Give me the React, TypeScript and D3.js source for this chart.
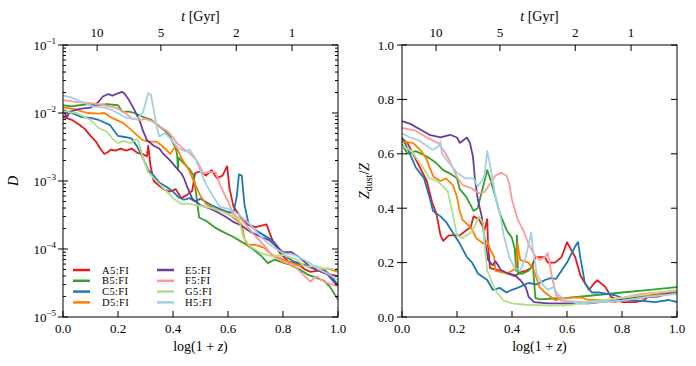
import React, { useEffect, useRef } from 'react';
import * as d3 from 'd3';

type Pt = [number, number];

const seriesNames = ['A5:FI', 'B5:FI', 'C5:FI', 'D5:FI', 'E5:FI', 'F5:FI', 'G5:FI', 'H5:FI'];
const seriesColors = ['#e31a1c', '#33a02c', '#1f78b4', '#ff7f00', '#6a3d9a', '#fb9a99', '#b2df8a', '#a6cee3'];

// left panel: D vs log(1+z)
const A5_D: Pt[] = [[0, 8.7e-3], [0.03, 8.0e-3], [0.06, 6.7e-3], [0.08, 5.8e-3], [0.1, 4.6e-3], [0.12, 3.8e-3], [0.135, 3.0e-3], [0.15, 2.5e-3], [0.16, 2.6e-3], [0.175, 2.9e-3], [0.19, 2.8e-3], [0.21, 3.0e-3], [0.23, 2.8e-3], [0.25, 3.0e-3], [0.27, 2.6e-3], [0.29, 2.5e-3], [0.305, 2.3e-3], [0.31, 3.3e-3], [0.318, 1.7e-3], [0.33, 1.0e-3], [0.35, 8.5e-4], [0.37, 7.4e-4], [0.39, 7.0e-4], [0.41, 7.6e-4], [0.43, 5.6e-4], [0.45, 6.2e-4], [0.47, 7.2e-4], [0.48, 1.3e-3], [0.5, 1.4e-3], [0.52, 1.2e-3], [0.54, 1.45e-3], [0.56, 1.1e-3], [0.58, 1.2e-3], [0.597, 1.65e-3], [0.605, 8.0e-4], [0.62, 4.2e-4], [0.64, 3.2e-4], [0.67, 2.3e-4], [0.7, 2.1e-4], [0.74, 2.3e-4], [0.76, 1.4e-4], [0.79, 8.6e-5], [0.82, 6.5e-5], [0.85, 6.2e-5], [0.88, 5.0e-5], [0.9, 4.6e-5], [0.93, 4.8e-5], [0.96, 4.3e-5], [1.0, 4.0e-5]];
const B5_D: Pt[] = [[0, 1.3e-2], [0.03, 1.25e-2], [0.06, 1.3e-2], [0.09, 1.35e-2], [0.12, 1.3e-2], [0.16, 1.35e-2], [0.2, 1.3e-2], [0.215, 1.05e-2], [0.24, 1.05e-2], [0.26, 1.0e-2], [0.29, 8.8e-3], [0.32, 8.0e-3], [0.35, 6.4e-3], [0.37, 5.5e-3], [0.39, 4.5e-3], [0.41, 3.0e-3], [0.415, 2.4e-3], [0.418, 1.45e-3], [0.42, 2.2e-3], [0.44, 1.8e-3], [0.46, 1.5e-3], [0.475, 1.2e-3], [0.487, 5.3e-4], [0.495, 2.9e-4], [0.52, 2.6e-4], [0.55, 2.1e-4], [0.58, 1.8e-4], [0.62, 1.5e-4], [0.66, 1.2e-4], [0.69, 1.0e-4], [0.72, 8.0e-5], [0.745, 6.2e-5], [0.77, 7.0e-5], [0.8, 6.3e-5], [0.83, 5.8e-5], [0.86, 5.0e-5], [0.89, 4.2e-5], [0.92, 3.8e-5], [0.95, 3.4e-5], [0.97, 2.8e-5], [1.0, 1.8e-5]];
const C5_D: Pt[] = [[0, 1.1e-2], [0.03, 1.0e-2], [0.07, 8.7e-3], [0.1, 8.5e-3], [0.13, 7.9e-3], [0.17, 6.7e-3], [0.2, 4.6e-3], [0.23, 4.4e-3], [0.25, 4.2e-3], [0.27, 3.2e-3], [0.29, 2.2e-3], [0.31, 1.45e-3], [0.33, 1.2e-3], [0.35, 9.5e-4], [0.38, 8.0e-4], [0.4, 7.0e-4], [0.42, 5.8e-4], [0.44, 5.3e-4], [0.46, 5.6e-4], [0.48, 5.0e-4], [0.5, 5.5e-4], [0.52, 4.9e-4], [0.54, 4.4e-4], [0.57, 3.9e-4], [0.6, 3.5e-4], [0.62, 3.4e-4], [0.632, 6.0e-4], [0.64, 1.25e-3], [0.65, 1.2e-3], [0.66, 4.5e-4], [0.675, 2.3e-4], [0.7, 1.9e-4], [0.73, 1.6e-4], [0.76, 1.35e-4], [0.78, 1.1e-4], [0.8, 8.2e-5], [0.84, 6.5e-5], [0.88, 5.8e-5], [0.92, 5.0e-5], [0.95, 4.9e-5], [0.97, 4.2e-5], [1.0, 3.0e-5]];
const D5_D: Pt[] = [[0, 1.2e-2], [0.04, 1.15e-2], [0.07, 1.05e-2], [0.09, 1.0e-2], [0.13, 9.8e-3], [0.15, 1.0e-2], [0.18, 8.4e-3], [0.22, 7.1e-3], [0.245, 5.8e-3], [0.27, 4.7e-3], [0.29, 4.0e-3], [0.31, 3.8e-3], [0.34, 3.8e-3], [0.36, 3.3e-3], [0.39, 2.5e-3], [0.41, 3.3e-3], [0.43, 2.2e-3], [0.46, 1.4e-3], [0.48, 9.0e-4], [0.5, 6.0e-4], [0.52, 4.6e-4], [0.55, 3.9e-4], [0.58, 3.6e-4], [0.61, 3.1e-4], [0.63, 2.7e-4], [0.65, 2.3e-4], [0.66, 1.4e-4], [0.67, 1.15e-4], [0.7, 1.15e-4], [0.73, 1.05e-4], [0.76, 8.2e-5], [0.8, 7.0e-5], [0.83, 6.3e-5], [0.85, 5.8e-5], [0.9, 5.5e-5], [0.93, 4.9e-5], [0.96, 5.2e-5], [1.0, 4.6e-5]];
const E5_D: Pt[] = [[0, 1.1e-2], [0.015, 8.7e-3], [0.025, 1.05e-2], [0.06, 1.15e-2], [0.1, 1.2e-2], [0.125, 1.4e-2], [0.145, 1.75e-2], [0.165, 1.9e-2], [0.18, 1.8e-2], [0.2, 1.95e-2], [0.215, 2.05e-2], [0.225, 1.9e-2], [0.24, 1.55e-2], [0.26, 1.1e-2], [0.28, 7.5e-3], [0.29, 5.6e-3], [0.305, 4.0e-3], [0.33, 3.3e-3], [0.35, 3.0e-3], [0.365, 2.5e-3], [0.39, 2.0e-3], [0.41, 1.6e-3], [0.43, 1.3e-3], [0.44, 1.1e-3], [0.45, 8.5e-4], [0.47, 5.5e-4], [0.5, 4.4e-4], [0.53, 4.0e-4], [0.56, 3.5e-4], [0.59, 3.0e-4], [0.62, 2.5e-4], [0.65, 2.2e-4], [0.68, 1.8e-4], [0.72, 1.5e-4], [0.75, 1.35e-4], [0.78, 1.05e-4], [0.8, 9.0e-5], [0.83, 9.0e-5], [0.86, 7.5e-5], [0.9, 5.4e-5], [0.93, 4.8e-5], [0.96, 4.3e-5], [1.0, 2.8e-5]];
const F5_D: Pt[] = [[0, 1.55e-2], [0.05, 1.45e-2], [0.1, 1.4e-2], [0.15, 1.3e-2], [0.19, 1.2e-2], [0.22, 1.05e-2], [0.25, 8.3e-3], [0.28, 7.9e-3], [0.3, 8.2e-3], [0.33, 7.4e-3], [0.35, 6.4e-3], [0.38, 5.4e-3], [0.4, 4.4e-3], [0.415, 3.6e-3], [0.436, 3.0e-3], [0.46, 2.6e-3], [0.487, 2.0e-3], [0.51, 1.3e-3], [0.53, 1.35e-3], [0.555, 1.35e-3], [0.57, 9.0e-4], [0.59, 6.0e-4], [0.6, 5.0e-4], [0.62, 3.2e-4], [0.65, 2.7e-4], [0.69, 1.7e-4], [0.73, 1.15e-4], [0.76, 8.0e-5], [0.8, 6.5e-5], [0.84, 5.7e-5], [0.87, 4.3e-5], [0.9, 3.3e-5], [0.92, 4.0e-5], [0.95, 3.3e-5], [1.0, 2.8e-5]];
const G5_D: Pt[] = [[0, 1.05e-2], [0.05, 1.0e-2], [0.1, 7.9e-3], [0.13, 6.0e-3], [0.16, 5.3e-3], [0.18, 4.2e-3], [0.2, 3.6e-3], [0.22, 3.9e-3], [0.245, 3.6e-3], [0.27, 4.2e-3], [0.28, 3.2e-3], [0.29, 2.2e-3], [0.31, 1.35e-3], [0.34, 1.0e-3], [0.37, 7.5e-4], [0.4, 5.6e-4], [0.43, 4.6e-4], [0.46, 4.6e-4], [0.5, 4.3e-4], [0.54, 4.0e-4], [0.58, 3.5e-4], [0.62, 3.0e-4], [0.64, 2.8e-4], [0.655, 1.5e-4], [0.68, 1.1e-4], [0.72, 8.7e-5], [0.76, 7.8e-5], [0.8, 8.2e-5], [0.85, 7.0e-5], [0.88, 5.5e-5], [0.92, 5.6e-5], [0.95, 5.2e-5], [1.0, 5.0e-5]];
const H5_D: Pt[] = [[0, 1.8e-2], [0.03, 1.7e-2], [0.06, 1.5e-2], [0.11, 1.25e-2], [0.15, 1.2e-2], [0.18, 1.1e-2], [0.23, 8.5e-3], [0.27, 8.2e-3], [0.29, 1.0e-2], [0.3, 1.4e-2], [0.31, 1.95e-2], [0.32, 1.85e-2], [0.33, 1.1e-2], [0.34, 6.5e-3], [0.35, 4.5e-3], [0.37, 5.0e-3], [0.38, 4.7e-3], [0.4, 3.8e-3], [0.42, 3.0e-3], [0.45, 2.7e-3], [0.46, 2.9e-3], [0.48, 2.2e-3], [0.5, 1.4e-3], [0.52, 9.0e-4], [0.54, 6.5e-4], [0.57, 4.2e-4], [0.6, 3.9e-4], [0.64, 3.2e-4], [0.68, 2.3e-4], [0.72, 1.5e-4], [0.76, 1.1e-4], [0.8, 8.7e-5], [0.84, 8.2e-5], [0.89, 6.5e-5], [0.93, 5.0e-5], [0.96, 4.4e-5], [1.0, 3.5e-5]];

// right panel: Z_dust/Z vs log(1+z)
const A5_Z: Pt[] = [[0, 0.655], [0.02, 0.64], [0.04, 0.6], [0.065, 0.55], [0.09, 0.5], [0.11, 0.42], [0.125, 0.38], [0.14, 0.3], [0.15, 0.28], [0.17, 0.3], [0.19, 0.3], [0.21, 0.3], [0.235, 0.32], [0.25, 0.33], [0.26, 0.37], [0.28, 0.36], [0.3, 0.32], [0.31, 0.36], [0.313, 0.26], [0.32, 0.18], [0.34, 0.175], [0.36, 0.17], [0.385, 0.16], [0.41, 0.15], [0.43, 0.165], [0.45, 0.17], [0.47, 0.18], [0.485, 0.22], [0.52, 0.22], [0.53, 0.2], [0.556, 0.2], [0.58, 0.22], [0.6, 0.275], [0.63, 0.22], [0.65, 0.15], [0.68, 0.1], [0.7, 0.125], [0.71, 0.135], [0.74, 0.11], [0.76, 0.074], [0.8, 0.055], [0.85, 0.055], [0.88, 0.062], [0.9, 0.08], [0.96, 0.088], [1.0, 0.092]];
const B5_Z: Pt[] = [[0, 0.635], [0.02, 0.6], [0.05, 0.61], [0.09, 0.59], [0.12, 0.57], [0.15, 0.54], [0.17, 0.53], [0.2, 0.51], [0.21, 0.47], [0.235, 0.44], [0.26, 0.39], [0.275, 0.4], [0.295, 0.48], [0.31, 0.54], [0.32, 0.51], [0.34, 0.44], [0.356, 0.38], [0.38, 0.32], [0.4, 0.29], [0.41, 0.25], [0.415, 0.17], [0.418, 0.3], [0.422, 0.16], [0.44, 0.16], [0.46, 0.17], [0.476, 0.19], [0.485, 0.07], [0.5, 0.065], [0.55, 0.068], [0.6, 0.07], [0.7, 0.08], [0.8, 0.09], [0.9, 0.1], [1.0, 0.11]];
const C5_Z: Pt[] = [[0, 0.66], [0.02, 0.62], [0.05, 0.55], [0.08, 0.51], [0.1, 0.44], [0.113, 0.39], [0.14, 0.37], [0.16, 0.35], [0.185, 0.31], [0.21, 0.27], [0.236, 0.22], [0.255, 0.2], [0.276, 0.16], [0.31, 0.136], [0.33, 0.1], [0.356, 0.107], [0.38, 0.09], [0.4, 0.1], [0.42, 0.107], [0.46, 0.125], [0.49, 0.12], [0.52, 0.136], [0.54, 0.143], [0.56, 0.14], [0.58, 0.17], [0.6, 0.2], [0.63, 0.26], [0.64, 0.276], [0.65, 0.21], [0.665, 0.125], [0.69, 0.09], [0.72, 0.09], [0.775, 0.08], [0.82, 0.0625], [0.86, 0.06], [0.92, 0.055], [0.97, 0.0625], [1.0, 0.055]];
const D5_Z: Pt[] = [[0, 0.645], [0.04, 0.64], [0.07, 0.61], [0.09, 0.58], [0.1, 0.55], [0.115, 0.515], [0.14, 0.5], [0.16, 0.51], [0.185, 0.485], [0.2, 0.44], [0.21, 0.39], [0.22, 0.357], [0.25, 0.33], [0.27, 0.29], [0.295, 0.27], [0.31, 0.28], [0.32, 0.25], [0.335, 0.22], [0.34, 0.17], [0.36, 0.165], [0.38, 0.16], [0.4, 0.17], [0.415, 0.18], [0.42, 0.27], [0.43, 0.21], [0.46, 0.2], [0.48, 0.17], [0.5, 0.11], [0.52, 0.09], [0.556, 0.0625], [0.6, 0.07], [0.65, 0.072], [0.68, 0.0625], [0.72, 0.062], [0.775, 0.055], [0.85, 0.074], [0.93, 0.08], [1.0, 0.088]];
const E5_Z: Pt[] = [[0, 0.72], [0.03, 0.71], [0.065, 0.69], [0.1, 0.67], [0.14, 0.66], [0.175, 0.67], [0.2, 0.66], [0.21, 0.64], [0.236, 0.66], [0.247, 0.64], [0.258, 0.59], [0.265, 0.51], [0.276, 0.43], [0.29, 0.37], [0.3, 0.29], [0.313, 0.21], [0.33, 0.19], [0.34, 0.205], [0.36, 0.173], [0.385, 0.16], [0.41, 0.154], [0.43, 0.136], [0.45, 0.11], [0.46, 0.075], [0.48, 0.055], [0.53, 0.05], [0.6, 0.05], [0.68, 0.05], [0.72, 0.055], [0.77, 0.06], [0.85, 0.07], [0.93, 0.075], [1.0, 0.095]];
const F5_Z: Pt[] = [[0, 0.695], [0.05, 0.685], [0.09, 0.66], [0.13, 0.64], [0.15, 0.615], [0.17, 0.58], [0.2, 0.515], [0.22, 0.485], [0.25, 0.475], [0.28, 0.455], [0.3, 0.46], [0.32, 0.49], [0.34, 0.52], [0.36, 0.53], [0.38, 0.52], [0.39, 0.49], [0.4, 0.43], [0.42, 0.36], [0.44, 0.32], [0.46, 0.27], [0.48, 0.23], [0.5, 0.21], [0.52, 0.22], [0.53, 0.235], [0.545, 0.15], [0.56, 0.08], [0.58, 0.06], [0.65, 0.055], [0.72, 0.06], [0.8, 0.07], [0.87, 0.085], [0.93, 0.09], [1.0, 0.095]];
const G5_Z: Pt[] = [[0, 0.63], [0.035, 0.61], [0.055, 0.58], [0.076, 0.55], [0.1, 0.51], [0.127, 0.5], [0.15, 0.48], [0.167, 0.46], [0.18, 0.4], [0.19, 0.35], [0.2, 0.3], [0.22, 0.29], [0.25, 0.31], [0.27, 0.345], [0.28, 0.37], [0.295, 0.345], [0.3, 0.27], [0.31, 0.17], [0.33, 0.12], [0.345, 0.09], [0.37, 0.06], [0.4, 0.05], [0.45, 0.045], [0.55, 0.042], [0.62, 0.045], [0.66, 0.055], [0.72, 0.06], [0.8, 0.07], [0.9, 0.085], [1.0, 0.1]];
const H5_Z: Pt[] = [[0, 0.675], [0.03, 0.66], [0.06, 0.65], [0.09, 0.63], [0.11, 0.615], [0.13, 0.625], [0.14, 0.645], [0.145, 0.6], [0.16, 0.58], [0.18, 0.555], [0.2, 0.53], [0.23, 0.51], [0.26, 0.51], [0.275, 0.48], [0.29, 0.5], [0.3, 0.52], [0.31, 0.61], [0.32, 0.56], [0.33, 0.5], [0.34, 0.44], [0.356, 0.38], [0.37, 0.3], [0.39, 0.22], [0.41, 0.18], [0.43, 0.17], [0.45, 0.22], [0.47, 0.31], [0.476, 0.25], [0.49, 0.16], [0.51, 0.12], [0.53, 0.1], [0.55, 0.11], [0.57, 0.08], [0.6, 0.06], [0.66, 0.05], [0.72, 0.055], [0.8, 0.06], [0.9, 0.075], [1.0, 0.085]];

const dSeries = [A5_D, B5_D, C5_D, D5_D, E5_D, F5_D, G5_D, H5_D];
const zSeries = [A5_Z, B5_Z, C5_Z, D5_Z, E5_Z, F5_Z, G5_Z, H5_Z];

const xTicks = [0, 0.2, 0.4, 0.6, 0.8, 1.0];
const dExponents = [-5, -4, -3, -2, -1];
const zTicks = [0, 0.2, 0.4, 0.6, 0.8, 1.0];
// cosmic time ticks on the top axis, placed at log(1+z)
const timeLabels = ['10', '5', '2', '1'];
const timePos = [0.124, 0.356, 0.63, 0.833];

const W = 696;
const H = 366;
const TOP = 45;
const BOTTOM = 317;
const FONT = '"Liberation Serif", "DejaVu Serif", serif';

const App = () => {
  const ref = useRef<SVGSVGElement>(null);

  useEffect(() => {
    const svg = d3.select(ref.current);
    svg.selectAll('*').remove();
    svg.append('rect').attr('width', W).attr('height', H).attr('fill', '#fff');

    const xL = d3.scaleLinear().domain([0, 1]).range([63, 338]);
    const xR = d3.scaleLinear().domain([0, 1]).range([402, 677]);
    const yL = d3.scaleLog().domain([1e-5, 1e-1]).range([BOTTOM, TOP]);
    const yR = d3.scaleLinear().domain([0, 1]).range([BOTTOM, TOP]);

    const drawPanel = (id: string, x: d3.ScaleLinear<number, number>, y: any, data: Pt[][]) => {
      const [x0, x1] = x.range();
      const g = svg.append('g');

      g.append('clipPath').attr('id', id).append('rect')
        .attr('x', x0).attr('y', TOP).attr('width', x1 - x0).attr('height', BOTTOM - TOP);

      const line = d3.line<Pt>().x((d) => x(d[0])).y((d) => y(d[1]));
      data.forEach((s, i) => {
        g.append('path')
          .attr('d', line(s))
          .attr('clip-path', `url(#${id})`)
          .attr('fill', 'none')
          .attr('stroke', seriesColors[i])
          .attr('stroke-width', 1.8)
          .attr('stroke-linejoin', 'round');
      });

      g.append('rect')
        .attr('x', x0).attr('y', TOP).attr('width', x1 - x0).attr('height', BOTTOM - TOP)
        .attr('fill', 'none').attr('stroke', '#000').attr('stroke-width', 1);

      // bottom axis
      xTicks.forEach((t) => {
        g.append('line').attr('x1', x(t)).attr('x2', x(t)).attr('y1', BOTTOM).attr('y2', BOTTOM - 6)
          .attr('stroke', '#000');
        g.append('text').text(d3.format('.1f')(t))
          .attr('x', x(t)).attr('y', 333)
          .attr('text-anchor', 'middle').attr('font-family', FONT).attr('font-size', 13);
      });
      const xl = g.append('text').attr('x', (x0 + x1) / 2).attr('y', 351)
        .attr('text-anchor', 'middle').attr('font-family', FONT).attr('font-size', 14);
      xl.append('tspan').text('log(1 + ');
      xl.append('tspan').text('z').attr('font-style', 'italic');
      xl.append('tspan').text(')');

      // top time axis
      timePos.forEach((p, i) => {
        g.append('line').attr('x1', x(p)).attr('x2', x(p)).attr('y1', TOP).attr('y2', TOP + 6)
          .attr('stroke', '#000');
        g.append('text').text(timeLabels[i])
          .attr('x', x(p)).attr('y', 37)
          .attr('text-anchor', 'middle').attr('font-family', FONT).attr('font-size', 13);
      });
      const tl = g.append('text').attr('x', (x0 + x1) / 2).attr('y', 21)
        .attr('text-anchor', 'middle').attr('font-family', FONT).attr('font-size', 14);
      tl.append('tspan').text('t').attr('font-style', 'italic');
      tl.append('tspan').text(' [Gyr]');

      return g;
    };

    // ---- left panel
    const gl = drawPanel('clipL', xL, yL, dSeries);
    dExponents.forEach((e) => {
      const yy = yL(Math.pow(10, e));
      gl.append('line').attr('x1', 58).attr('x2', 68).attr('y1', yy).attr('y2', yy).attr('stroke', '#000');
      gl.append('line').attr('x1', 332).attr('x2', 338).attr('y1', yy).attr('y2', yy).attr('stroke', '#000');
      const t = gl.append('text').attr('x', 56).attr('y', yy + 5)
        .attr('text-anchor', 'end').attr('font-family', FONT).attr('font-size', 13);
      t.append('tspan').text('10');
      t.append('tspan').text(`\u2212${-e}`).attr('font-size', 9).attr('dy', -6);
      if (e < -1) {
        d3.range(2, 10).forEach((m) => {
          const ym = yL(m * Math.pow(10, e));
          gl.append('line').attr('x1', 63).attr('x2', 66).attr('y1', ym).attr('y2', ym).attr('stroke', '#000');
          gl.append('line').attr('x1', 335).attr('x2', 338).attr('y1', ym).attr('y2', ym).attr('stroke', '#000');
        });
      }
    });
    gl.append('text').text('D')
      .attr('transform', 'translate(18,181) rotate(-90)')
      .attr('text-anchor', 'middle').attr('font-family', FONT).attr('font-size', 14).attr('font-style', 'italic');

    // legend
    seriesNames.forEach((name, i) => {
      const col = Math.floor(i / 4);
      const row = i % 4;
      const lx = col === 0 ? 73 : 157;
      const tx = col === 0 ? 102 : 185;
      const ly = 270 + row * 10.8;
      gl.append('line').attr('x1', lx).attr('x2', lx + 17).attr('y1', ly).attr('y2', ly)
        .attr('stroke', seriesColors[i]).attr('stroke-width', 2.5);
      gl.append('text').text(name).attr('x', tx).attr('y', ly + 3.5)
        .attr('font-family', FONT).attr('font-size', 10.5).attr('letter-spacing', 0.4);
    });

    // ---- right panel
    const gr = drawPanel('clipR', xR, yR, zSeries);
    zTicks.forEach((t) => {
      const yy = yR(t);
      gr.append('line').attr('x1', 397).attr('x2', 407).attr('y1', yy).attr('y2', yy).attr('stroke', '#000');
      gr.append('line').attr('x1', 671).attr('x2', 677).attr('y1', yy).attr('y2', yy).attr('stroke', '#000');
      gr.append('text').text(d3.format('.1f')(t)).attr('x', 394).attr('y', yy + 4.5)
        .attr('text-anchor', 'end').attr('font-family', FONT).attr('font-size', 13);
    });
    const zl = gr.append('text')
      .attr('transform', 'translate(369,181) rotate(-90)')
      .attr('text-anchor', 'middle').attr('font-family', FONT).attr('font-size', 14);
    zl.append('tspan').text('Z').attr('font-style', 'italic');
    zl.append('tspan').text('dust').attr('font-size', 10).attr('dy', 3);
    zl.append('tspan').text('/').attr('dy', -3);
    zl.append('tspan').text('Z').attr('font-style', 'italic');
  }, []);

  return (
    <svg ref={ref} width={W} height={H} style={{ position: 'absolute', left: 0, top: 0 }} />
  );
};

export default App;
